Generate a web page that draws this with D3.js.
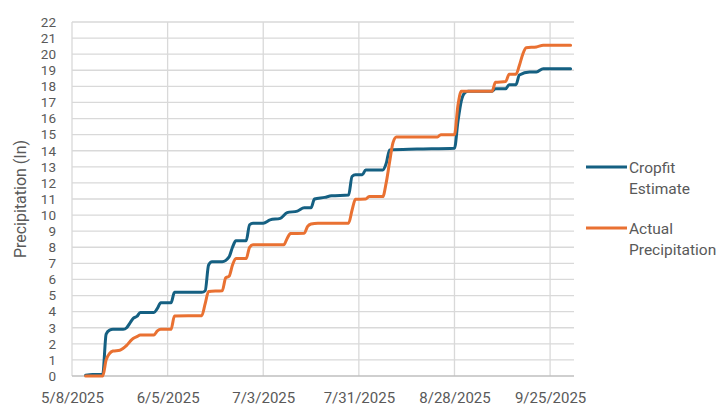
<!DOCTYPE html>
<html>
<head>
<meta charset="utf-8">
<script src="https://cdn.jsdelivr.net/npm/d3@7"></script>
<style>
  html, body { margin: 0; padding: 0; background: #fff; }
  svg { display: block; }
  text { font-family: Roboto, "Noto Sans", sans-serif; fill: #595959; }
</style>
</head>
<body>
<svg id="chart" width="720" height="410"></svg>
<script>
// ---- data ----
const cropfitDates = ["2025-05-12","2025-05-14","2025-05-17","2025-05-18","2025-05-19","2025-05-20","2025-05-23","2025-05-24","2025-05-25","2025-05-26","2025-05-27","2025-05-28","2025-06-01","2025-06-02","2025-06-03","2025-06-06","2025-06-07","2025-06-15","2025-06-16","2025-06-17","2025-06-18","2025-06-21","2025-06-23","2025-06-24","2025-06-25","2025-06-28","2025-06-29","2025-06-30","2025-07-03","2025-07-05","2025-07-08","2025-07-10","2025-07-13","2025-07-15","2025-07-17","2025-07-18","2025-07-21","2025-07-23","2025-07-28","2025-07-29","2025-07-30","2025-08-01","2025-08-02","2025-08-07","2025-08-08","2025-08-09","2025-08-17","2025-08-28","2025-08-29","2025-08-30","2025-08-31","2025-09-01","2025-09-08","2025-09-09","2025-09-12","2025-09-13","2025-09-15","2025-09-16","2025-09-19","2025-09-21","2025-09-23","2025-10-01"];
const cropfitValues = [0.05,0.1,0.1,2.6,2.85,2.9,2.9,3.0,3.3,3.6,3.7,3.95,3.95,4.2,4.55,4.55,5.2,5.2,5.3,6.9,7.1,7.1,7.4,8.0,8.4,8.4,9.4,9.5,9.5,9.7,9.8,10.15,10.25,10.45,10.45,11.0,11.1,11.2,11.25,12.4,12.5,12.5,12.8,12.8,13.2,14.05,14.1,14.15,15.8,17.1,17.6,17.7,17.7,17.85,17.85,18.1,18.1,18.7,18.9,18.9,19.1,19.1];

const actualDates = ["2025-05-12","2025-05-17","2025-05-18","2025-05-19","2025-05-20","2025-05-22","2025-05-23","2025-05-24","2025-05-25","2025-05-26","2025-05-27","2025-05-28","2025-06-01","2025-06-02","2025-06-03","2025-06-06","2025-06-07","2025-06-15","2025-06-16","2025-06-17","2025-06-21","2025-06-22","2025-06-23","2025-06-24","2025-06-25","2025-06-28","2025-06-29","2025-06-30","2025-07-09","2025-07-10","2025-07-11","2025-07-15","2025-07-16","2025-07-17","2025-07-19","2025-07-28","2025-07-29","2025-07-30","2025-08-02","2025-08-03","2025-08-07","2025-08-08","2025-08-09","2025-08-10","2025-08-11","2025-08-23","2025-08-24","2025-08-28","2025-08-29","2025-08-30","2025-09-08","2025-09-09","2025-09-12","2025-09-13","2025-09-15","2025-09-16","2025-09-17","2025-09-18","2025-09-21","2025-09-23","2025-10-01"];
const actualValues = [0,0,1.0,1.4,1.55,1.6,1.72,1.9,2.15,2.35,2.45,2.55,2.55,2.8,2.9,2.9,3.73,3.75,4.5,5.25,5.3,6.1,6.2,6.9,7.3,7.3,8.0,8.15,8.15,8.55,8.85,8.87,9.3,9.45,9.5,9.5,10.3,10.98,11.0,11.15,11.15,12.0,13.3,14.5,14.85,14.85,15.0,15.0,16.8,17.7,17.7,18.25,18.3,18.75,18.75,19.3,20.0,20.4,20.45,20.55,20.55];

const xTickDates = ["2025-05-08","2025-06-05","2025-07-03","2025-07-31","2025-08-28","2025-09-25"];
const yTicks = d3.range(0, 23, 1);
const seriesNames = ["Cropfit Estimate", "Actual Precipitation"];
const seriesColors = ["#156082", "#E97132"];
const yLabel = "Precipitation (In)";

// ---- build ----
const parse = d3.timeParse("%Y-%m-%d");
const fmt = d3.timeFormat("%-m/%-d/%Y");
const series = [
  { name: seriesNames[0], color: seriesColors[0], pts: cropfitDates.map((d, i) => ({ d: parse(d), v: cropfitValues[i] })) },
  { name: seriesNames[1], color: seriesColors[1], pts: actualDates.map((d, i) => ({ d: parse(d), v: actualValues[i] })) }
];

const svg = d3.select("#chart");
const L = 72, R = 574, T = 22, B = 376;
const x = d3.scaleTime().domain([parse("2025-05-08"), parse("2025-10-02")]).range([L, R]);
const y = d3.scaleLinear().domain([0, 22]).range([B, T]);

// horizontal gridlines
svg.append("g").selectAll("line").data(yTicks.filter(v => v > 0)).join("line")
  .attr("x1", L).attr("x2", R).attr("y1", d => y(d)).attr("y2", d => y(d))
  .attr("stroke", "#d9d9d9").attr("stroke-width", 1.3);

// vertical gridlines
svg.append("g").selectAll("line").data(xTickDates.map(parse)).join("line")
  .attr("x1", d => x(d)).attr("x2", d => x(d)).attr("y1", T).attr("y2", B)
  .attr("stroke", "#d9d9d9").attr("stroke-width", 1.3);

// bottom axis line
svg.append("line").attr("x1", L).attr("x2", R).attr("y1", B).attr("y2", B)
  .attr("stroke", "#bfbfbf").attr("stroke-width", 1.3);

// y tick labels
const yAxis = d3.axisLeft(y).tickValues(yTicks).tickFormat(d3.format("d")).tickSize(0).tickPadding(16);
const gy = svg.append("g").attr("transform", `translate(${L},0)`).call(yAxis);
gy.select(".domain").remove();
gy.selectAll("text").attr("font-size", 13.5).style("fill", "#595959").attr("font-family", "Roboto, sans-serif");

// x tick labels
const xAxis = d3.axisBottom(x).tickValues(xTickDates.map(parse)).tickFormat(fmt).tickSize(0).tickPadding(16);
const gx = svg.append("g").attr("transform", `translate(0,${B})`).call(xAxis);
gx.select(".domain").remove();
gx.selectAll("text").attr("font-size", 15).style("fill", "#595959").attr("font-family", "Roboto, sans-serif");

// y label
svg.append("text")
  .attr("transform", `translate(26,${(T + B) / 2}) rotate(-90)`)
  .attr("text-anchor", "middle")
  .attr("font-size", 16)
  .text(yLabel);

// lines
const line = d3.line().x(p => x(p.d)).y(p => y(p.v)).curve(d3.curveMonotoneX);
svg.append("g").selectAll("path").data(series).join("path")
  .attr("d", s => line(s.pts))
  .attr("fill", "none")
  .attr("stroke", s => s.color)
  .attr("stroke-width", 3)
  .attr("stroke-linejoin", "round")
  .attr("stroke-linecap", "round");

// legend
const legendY = [167, 228];
const leg = svg.append("g").selectAll("g").data(series).join("g")
  .attr("transform", (s, i) => `translate(586,${legendY[i]})`);
leg.append("line").attr("x1", 0).attr("x2", 41).attr("y1", 0).attr("y2", 0)
  .attr("stroke", s => s.color).attr("stroke-width", 3);
const lt = leg.append("text").attr("x", 43).attr("y", 6).attr("font-size", 15.5);
lt.selectAll("tspan").data(s => s.name.split(" ")).join("tspan")
  .attr("x", 43).attr("dy", (d, i) => i === 0 ? 0 : 21).text(d => d);
</script>
</body>
</html>
